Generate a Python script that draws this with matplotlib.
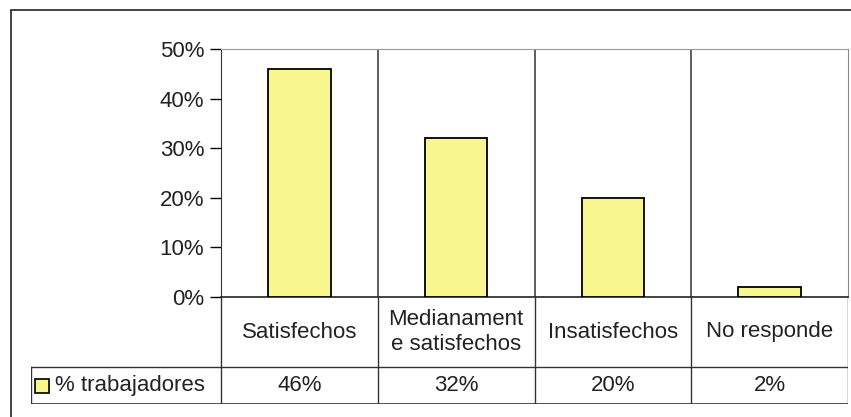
import matplotlib.pyplot as plt
import matplotlib.patches as mpatches
import numpy as np

plt.rcParams['font.family'] = ['Liberation Sans', 'DejaVu Sans']

categorias = ['Satisfechos', 'Medianament\ne satisfechos', 'Insatisfechos', 'No responde']
valores = [46, 32, 20, 2]
etiquetas = ['46%', '32%', '20%', '2%']
serie = '% trabajadores'
yticks = [0, 10, 20, 30, 40, 50]

W, H = 851, 417
fig = plt.figure(figsize=(W / 100, H / 100), dpi=100)


def frac(x0, y0, x1, y1):
    # pixel box (top-left origin) -> figure fraction rect
    return [x0 / W, (H - y1) / H, (x1 - x0) / W, (y1 - y0) / H]


amarillo = '#f7f78e'
fs = 16

# outer chart frame (right and bottom edges fall outside the picture)
fig.patches.append(mpatches.Rectangle((11 / W, -0.05), 1.0, (H - 10) / H + 0.05,
                                      transform=fig.transFigure, fill=False,
                                      edgecolor='#222222', linewidth=1.2))

# plot area
ax = fig.add_axes(frac(221, 49, 848, 297))
x = np.arange(len(categorias))
ax.bar(x, valores, width=0.4, color=amarillo, edgecolor='black', linewidth=1.3, zorder=3)
ax.set_xlim(-0.5, len(categorias) - 0.5)
ax.set_ylim(0, 50)
ax.set_yticks(yticks)
ax.set_yticklabels([f'{t}%' for t in yticks], fontsize=fs, color='#222222')
ax.tick_params(axis='y', direction='out', length=8, width=1, pad=4)
ax.set_xticks([])
for b in x[:-1] + 0.5:
    ax.axvline(b, color='#333333', linewidth=1.1, zorder=2)
ax.spines['left'].set_color('#333333')
ax.spines['bottom'].set_color('#222222')
ax.spines['bottom'].set_linewidth(1.2)
ax.spines['top'].set_color('#999999')
ax.spines['top'].set_linestyle((0, (4, 1)))
ax.spines['right'].set_color('#888888')

# data table below
left_px = 31
cat_w = (848 - 221) / len(categorias)
xl = -0.5 - (221 - left_px) / cat_w
row_h = 404 - 297
tb = fig.add_axes(frac(left_px, 297, 848, 404))
tb.set_xlim(xl, len(categorias) - 0.5)
tb.set_ylim(0, 1)
tb.axis('off')
split = (404 - 367) / row_h
lc = '#333333'
tb.plot([xl, len(categorias) - 0.5], [split, split], color=lc, lw=1)
tb.plot([xl, len(categorias) - 0.5], [0, 0], color=lc, lw=1.2)
tb.plot([xl, xl], [0, split], color=lc, lw=1)
for b in np.arange(len(categorias) + 1) - 0.5:
    tb.plot([b, b], [0, 1], color=lc, lw=1)
for i, (c, v) in enumerate(zip(categorias, etiquetas)):
    tb.text(i, (1 + split) / 2, c, ha='center', va='center', fontsize=fs,
            color='#222222', linespacing=1.3)
    tb.text(i, split / 2, v, ha='center', va='center', fontsize=fs, color='#222222')

# legend key in the table
tb.add_patch(mpatches.Rectangle((xl + 4 / cat_w, split / 2 - 7 / row_h), 14 / cat_w, 14 / row_h,
                                facecolor=amarillo, edgecolor='#111111', linewidth=1.3))
tb.text(xl + 24 / cat_w, split / 2, serie, ha='left', va='center', fontsize=fs, color='#222222')

fig.savefig('out.png', dpi=100)
